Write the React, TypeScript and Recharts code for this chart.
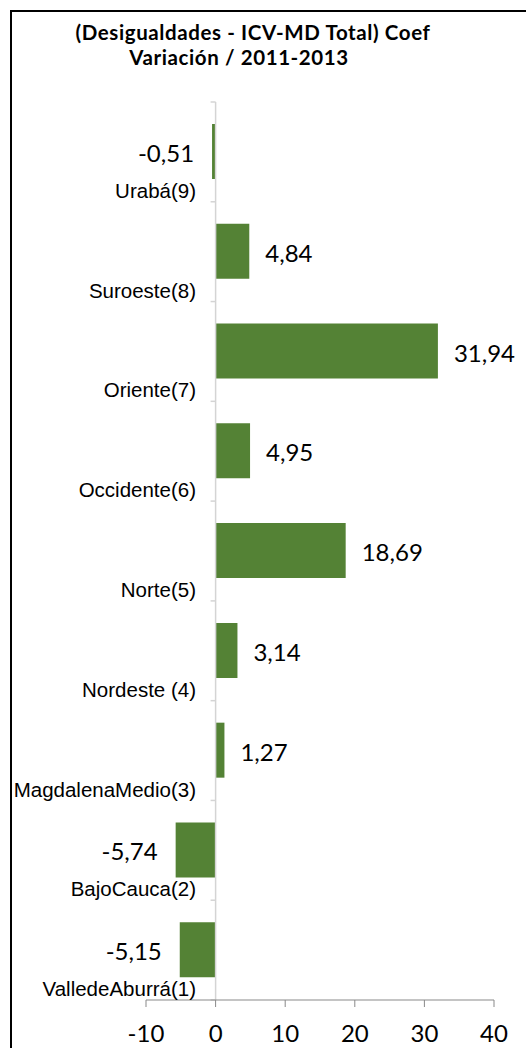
import React from "react";
import {
  BarChart, Bar, XAxis, YAxis, ReferenceLine, LabelList,
} from "recharts";

const TITLE_LINES = ["(Desigualdades - ICV-MD Total) Coef", "Variación / 2011-2013"];

// top to bottom, as in the picture
const REGIONS = [
  "Urabá(9)",
  "Suroeste(8)",
  "Oriente(7)",
  "Occidente(6)",
  "Norte(5)",
  "Nordeste (4)",
  "MagdalenaMedio(3)",
  "BajoCauca(2)",
  "ValledeAburrá(1)",
];
const COEF_VAR = [-0.51, 4.84, 31.94, 4.95, 18.69, 3.14, 1.27, -5.74, -5.15];
const X_TICKS = [-10, 0, 10, 20, 30, 40];

const data = REGIONS.map((name, i) => ({ name, value: COEF_VAR[i] }));

const GREEN = "#548235";
const BODY_FONT = "Lato, 'Open Sans', sans-serif";
const LABEL_FONT = "'Liberation Sans', Arial, sans-serif";

const fmt = (v: number) => v.toFixed(2).replace(".", ",");

function CategoryTick(props: any) {
  const { y, payload } = props;
  return (
    <text x={196} y={y + 46} textAnchor="end" fontSize={20.5} fontFamily={LABEL_FONT} fill="#000">
      {payload.value}
    </text>
  );
}

function ValueLabel(props: any) {
  const { x, y, width, height, value } = props;
  const left = Math.min(x, x + width);
  const right = Math.max(x, x + width);
  const neg = value < 0;
  return (
    <text
      x={neg ? left - 18 : right + 16}
      y={y + height / 2 + 10.5}
      textAnchor={neg ? "end" : "start"}
      fontSize={24}
      fontFamily={BODY_FONT}
      fill="#000"
    >
      {fmt(value)}
    </text>
  );
}

// zero line with small marks at each category boundary
function ZeroAxis(props: any) {
  const { x1, y1, y2 } = props;
  const top = Math.min(y1, y2);
  const span = Math.abs(y2 - y1);
  const step = span / REGIONS.length;
  const marks = [];
  for (let i = 0; i <= REGIONS.length; i++) {
    const yy = top + step * i;
    marks.push(<line key={i} x1={x1 - 5} x2={x1} y1={yy} y2={yy} stroke="#d4d4d4" strokeWidth={1.5} />);
  }
  return (
    <g>
      <line x1={x1} x2={x1} y1={top} y2={top + span} stroke="#d4d4d4" strokeWidth={1.5} />
      {marks}
    </g>
  );
}

export default function App() {
  return (
    <div style={{ position: "absolute", left: 0, top: 0, width: 526, height: 1048, overflow: "hidden", background: "#fff" }}>
      <svg width={526} height={1048} style={{ position: "absolute", left: 0, top: 0 }}>
        <rect x={11} y={11} width={600} height={1100} fill="none" stroke="#000" strokeWidth={2} />
        <text x={253} y={40} textAnchor="middle" fontSize={20.5} letterSpacing={0.6} fontWeight="bold" fontFamily={BODY_FONT} fill="#000">
          {TITLE_LINES[0]}
        </text>
        <text x={239} y={65} textAnchor="middle" fontSize={20.5} letterSpacing={0.6} fontWeight="bold" fontFamily={BODY_FONT} fill="#000">
          {TITLE_LINES[1]}
        </text>
      </svg>
      <div style={{ position: "absolute", left: 0, top: 0 }}>
        <BarChart
          width={526}
          height={1048}
          data={data}
          layout="vertical"
          margin={{ top: 102, right: 32, bottom: 0, left: 0 }}
        >
          <XAxis
            type="number"
            domain={[-10, 40]}
            ticks={X_TICKS}
            interval={0}
            height={48}
            stroke="#898989"
            tickSize={7}
            tickMargin={17.5}
            tick={{ fill: "#000", fontSize: 24, fontFamily: BODY_FONT }}
            allowDataOverflow
          />
          <YAxis
            type="category"
            dataKey="name"
            width={146}
            axisLine={false}
            tickLine={false}
            interval={0}
            tick={<CategoryTick />}
          />
          <ReferenceLine x={0} shape={<ZeroAxis />} ifOverflow="visible" />
          <Bar dataKey="value" fill={GREEN} barSize={55} isAnimationActive={false}>
            <LabelList dataKey="value" content={<ValueLabel />} />
          </Bar>
        </BarChart>
      </div>
    </div>
  );
}
